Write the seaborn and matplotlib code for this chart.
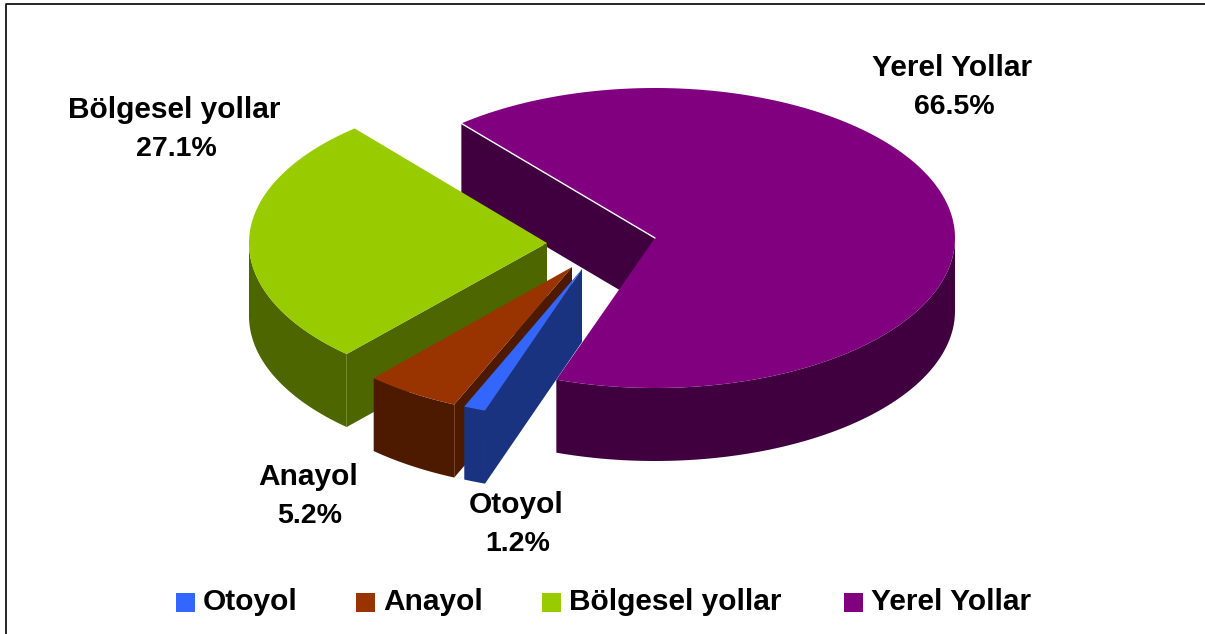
import numpy as np
import matplotlib
matplotlib.use("Agg")
import matplotlib.pyplot as plt
import seaborn as sns

# road network shares, in clockwise order from the front of the pie
categories = ["Otoyol", "Anayol", "Bölgesel yollar", "Yerel Yollar"]
shares = [1.2, 5.2, 27.1, 66.5]
percent_labels = ["1.2%", "5.2%", "27.1%", "66.5%"]

top_colors = ["#3366FF", "#993300", "#99CC00", "#800080"]
side_colors = ["#1A3380", "#4D1A00", "#4D6600", "#400040"]

# layout in pixels
apex_x = [582, 572, 547, 655]
apex_y = [269, 267, 243, 238]
radius_x = [295, 295, 298, 300]
label_x = [516, 308, 174, 952]
label_y = [505, 477, 110, 68]
legend_x = [176, 356, 542, 844]
ry, depth = 150, 73
start_angle = -109.2

sns.set_theme(style="white")
plt.rcParams["font.family"] = ["Liberation Sans", "DejaVu Sans"]

fig = plt.figure(figsize=(12.05, 6.34), dpi=100)
ax = fig.add_axes([0, 0, 1, 1])
ax.set_xlim(0, 1205)
ax.set_ylim(634, 0)
ax.axis("off")

# outer frame, only top and left show in the picture
ax.plot([6, 6, 1205], [634, 4, 4], color="black", lw=1.2, solid_capstyle="butt")

sweeps = np.array(shares) / np.sum(shares) * 360
starts = start_angle - np.concatenate([[0], np.cumsum(sweeps)[:-1]])

# back slice first, front slice last
for i in [3, 2, 1, 0]:
    cx, cy = apex_x[i], apex_y[i]
    a = np.radians(np.linspace(starts[i], starts[i] - sweeps[i], 240))
    px = cx + radius_x[i] * np.cos(a)
    py = cy - ry * np.sin(a)

    # flat face along the first edge
    ax.fill([px[0], cx, cx, px[0]], [py[0], cy, cy + depth, py[0] + depth],
            color=side_colors[i], lw=0)

    # outer wall, front part only
    front = np.sin(a) < 0
    if front.any():
        wx, wy = px[front], py[front]
        ax.fill(np.r_[wx, wx[::-1]], np.r_[wy, wy[::-1] + depth],
                color=side_colors[i], lw=0)

    ax.fill(np.r_[cx, px], np.r_[cy, py], color=top_colors[i], lw=0)

    if i == 3:
        ax.plot([px[0], cx], [py[0], cy], color="white", lw=1)

    ax.text(label_x[i], label_y[i], categories[i], ha="center", va="center",
            fontsize=21.5, fontweight="bold", color="black")
    ax.text(label_x[i] + 2, label_y[i] + 39, percent_labels[i], ha="center", va="center",
            fontsize=20.5, fontweight="bold", color="black")

# legend
for i in range(4):
    ax.fill([legend_x[i], legend_x[i] + 19, legend_x[i] + 19, legend_x[i]],
            [593, 593, 612, 612], color=top_colors[i], lw=0)
    ax.text(legend_x[i] + 27, 602, categories[i], ha="left", va="center",
            fontsize=21.5, fontweight="bold", color="black")

plt.savefig("out.png", dpi=100)
